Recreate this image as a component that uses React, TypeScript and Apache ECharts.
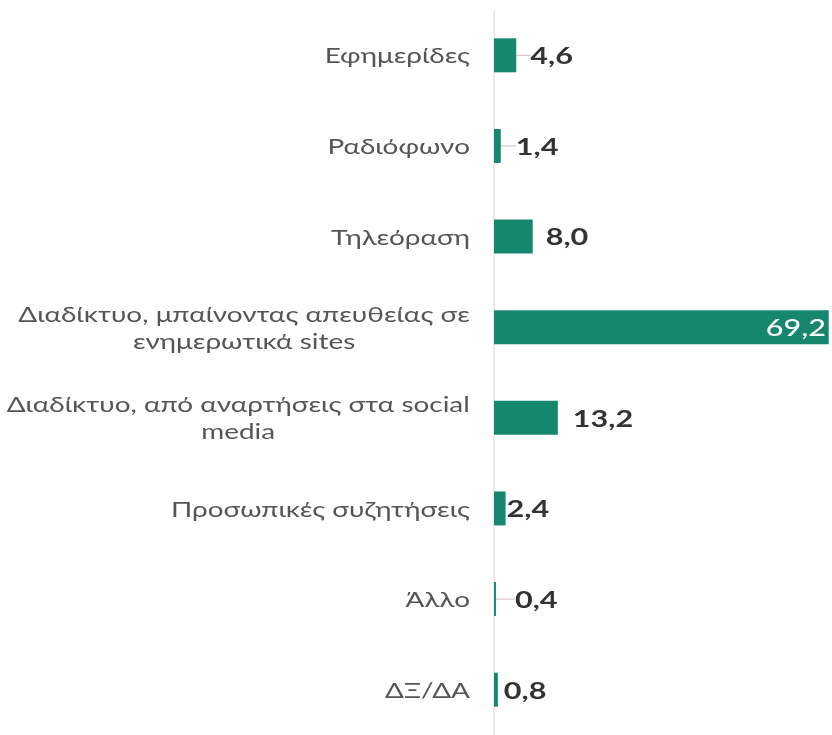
import React, { useEffect, useRef } from "react";
import * as echarts from "echarts";

const categories: string[] = [
  "Εφημερίδες",
  "Ραδιόφωνο",
  "Τηλεόραση",
  "Διαδίκτυο, μπαίνοντας απευθείας σε\nενημερωτικά sites",
  "Διαδίκτυο, από αναρτήσεις στα social\nmedia",
  "Προσωπικές συζητήσεις",
  "Άλλο",
  "ΔΞ/ΔΑ",
];

const values: number[] = [4.6, 1.4, 8.0, 69.2, 13.2, 2.4, 0.4, 0.8];

// label shifts (screen px, style only) and whether a leader line is drawn
const labelShift: number[] = [10, 11, 9, 0, 11, -3, 15, 2];
const leader: boolean[] = [true, true, false, false, false, false, true, false];

const BAR = "#16876f";
const FONT = "Lato, 'Noto Sans', 'DejaVu Sans', sans-serif";

// the reference artwork is horizontally stretched; reproduce by scaling the chart box
const W = 832;
const H = 735;
const S = 1.33;
const innerW = W / S;

const fmt = (v: number) => v.toFixed(1).replace(".", ",");

export default function App() {
  const ref = useRef<HTMLDivElement>(null);
  useEffect(() => {
    if (!ref.current) return;
    const chart = echarts.init(ref.current, undefined, { renderer: "svg" });
    const data = values.map((v, i) => {
      const inside = v > 50;
      return {
        value: v,
        label: inside
          ? {
              position: "insideRight",
              distance: 2,
              color: "#ffffff",
              fontWeight: 500,
            }
          : { position: "right", distance: 3 },
        labelLine: { show: leader[i] },
      };
    });
    chart.setOption({
      animation: false,
      grid: { left: 494 / S, right: 0, top: 10, height: 733, containLabel: false },
      xAxis: {
        type: "value",
        min: 0,
        max: 70,
        show: false,
      },
      yAxis: {
        type: "category",
        inverse: true,
        data: categories,
        axisLine: { show: true, lineStyle: { color: "#e6dadd", width: 1 } },
        axisTick: { show: false },
        axisLabel: {
          margin: 24 / S,
          fontFamily: FONT,
          fontSize: 21,
          color: "#555555",
          formatter: (s: string) =>
            s.includes("\n")
              ? s
                  .split("\n")
                  .map((l) => `{c|${l}}`)
                  .join("\n")
              : s,
          rich: {
            c: {
              align: "center",
              fontFamily: FONT,
              fontSize: 21,
              color: "#555555",
              lineHeight: 27,
            },
          },
        },
      },
      series: [
        {
          type: "bar",
          data,
          barWidth: 34,
          itemStyle: { color: BAR },
          label: {
            show: true,
            fontFamily: FONT,
            fontSize: 23,
            fontWeight: "bold",
            color: "#333333",
            formatter: (p: any) => fmt(p.value),
          },
          labelLine: {
            show: true,
            lineStyle: { color: "#d8b4be", width: 1 },
          },
          labelLayout: (p: any) => ({ dx: labelShift[p.dataIndex] / S }),
        },
      ],
    });
    return () => chart.dispose();
  }, []);
  return (
    <div
      style={{
        position: "fixed",
        left: 0,
        top: 0,
        width: W,
        height: H,
        overflow: "hidden",
      }}
    >
      <div
        ref={ref}
        style={{
          width: innerW,
          height: H,
          transform: `scaleX(${S})`,
          transformOrigin: "left top",
        }}
      />
    </div>
  );
}
